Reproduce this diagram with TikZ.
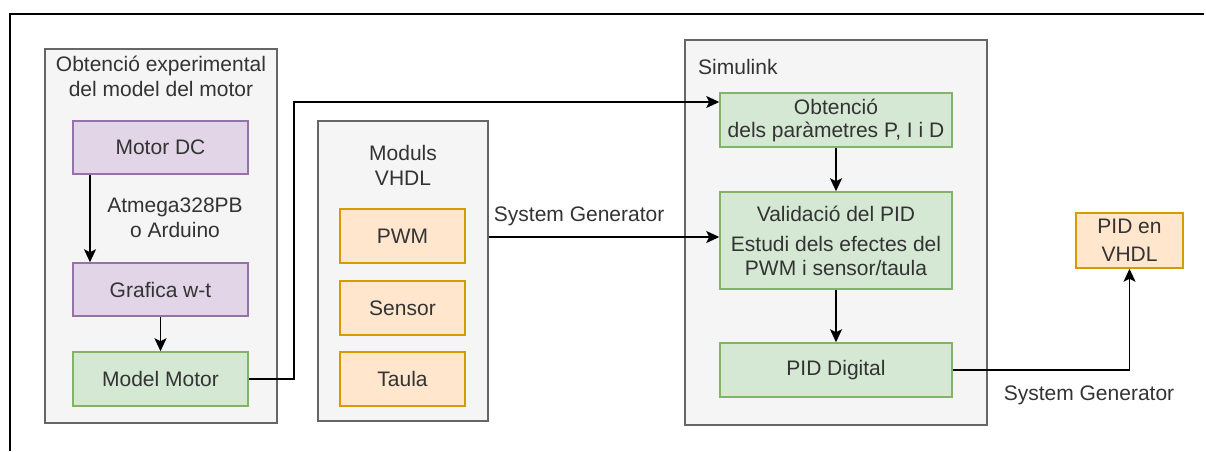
\documentclass[tikz,border=0pt]{standalone}
\usepackage{fontspec}
\setmainfont{Liberation Sans}
\usetikzlibrary{arrows.meta}

\definecolor{grupfill}{HTML}{F5F5F5}
\definecolor{grupline}{HTML}{666666}
\definecolor{txt}{HTML}{333333}
\definecolor{lilafill}{HTML}{E1D5E7}
\definecolor{lilaline}{HTML}{9673A6}
\definecolor{verdfill}{HTML}{D5E8D4}
\definecolor{verdline}{HTML}{82B366}
\definecolor{tarongfill}{HTML}{FFE6CC}
\definecolor{tarongline}{HTML}{D79B00}

\begin{document}
\begin{tikzpicture}[x=1pt, y=-1pt,
        every node/.style={font=\fontsize{21}{25}\selectfont, text=txt},
        grup/.style={draw=grupline, fill=grupfill, line width=1.5pt, inner sep=0pt},
        caixa/.style={draw=#1line, fill=#1fill, line width=1.5pt, align=center,
            minimum width=175pt, minimum height=54pt, inner sep=0pt},
        fletxa/.style={-{Stealth[length=13pt, width=12pt, inset=3pt]}, line width=1.8pt},
        etiqueta/.style={align=center, inner sep=2pt}]
        \useasboundingbox (0,0) rectangle (1206,451);
        \draw[line width=2pt] (10,451) -- (10,14) -- (1204,14);

        % grups
        \node[grup, minimum width=232pt, minimum height=374pt] (gmotor) at (161,236) {};
        \node[grup, minimum width=170pt, minimum height=300pt] (gmoduls) at (403,271) {};
        \node[grup, minimum width=302pt, minimum height=385pt] (gsim) at (836,232.5) {};
        \node[etiqueta] (tmotor) at (161,76) {Obtenció experimental\\del model del motor};
        \node[etiqueta] (tmoduls) at (403,165) {Moduls\\VHDL};
        \node[etiqueta, anchor=west] (tsim) at (696,67) {Simulink};

        % motor
        \node[caixa=lila, minimum height=53pt] (motor) at (160.5,147.5) {Motor DC};
        \node[caixa=lila, minimum height=53pt] (grafica) at (160.5,289.5) {Grafica w-t};
        \node[caixa=verd] (model) at (160.5,379) {Model Motor};
        \node[etiqueta] (atmega) at (175,218) {Atmega328PB\\o Arduino};

        % moduls VHDL
        \node[caixa=tarong, minimum width=125pt] (pwm) at (402.5,236) {PWM};
        \node[caixa=tarong, minimum width=125pt] (sensor) at (402.5,308) {Sensor};
        \node[caixa=tarong, minimum width=125pt] (taula) at (402.5,379) {Taula};

        % simulink
        \node[caixa=verd, minimum width=232pt] (param) at (836,120)
            {Obtenció\\[-2pt]dels paràmetres P, I i D};
        \node[caixa=verd, minimum width=232pt, minimum height=97pt] (valid) at (836,240.5)
            {Validació del PID\\[5pt]Estudi dels efectes del\\[-1pt]PWM i sensor/taula};
        \node[caixa=verd, minimum width=232pt] (pidd) at (836,370) {PID Digital};
        \node[caixa=tarong, minimum width=107pt, minimum height=55pt] (pidv) at (1129.5,240.5)
            {PID en\\[3pt]VHDL};

        % fletxes
        \draw[fletxa] ([xshift=-70.5pt]motor.south) -- ([xshift=-70.5pt]grafica.north);
        \draw[fletxa] (grafica) -- (model);
        \draw[fletxa] (model.east) -- ++(45,0) |- ([yshift=18pt]param.west);
        \draw[fletxa] (param) -- (valid);
        \draw[fletxa] (valid) -- (pidd);
        \coordinate (sgin) at ([yshift=34pt]gmoduls.east);
        \draw[fletxa] (sgin) -- (sgin -| valid.west);
        \node[etiqueta, anchor=west] (sg1) at ([shift={(3,-21)}]sgin) {System Generator};
        \draw[fletxa] (pidd.east) -| (pidv.south);
        \node[etiqueta] (sg2) at (1089,395) {System Generator};
\end{tikzpicture}
\end{document}
